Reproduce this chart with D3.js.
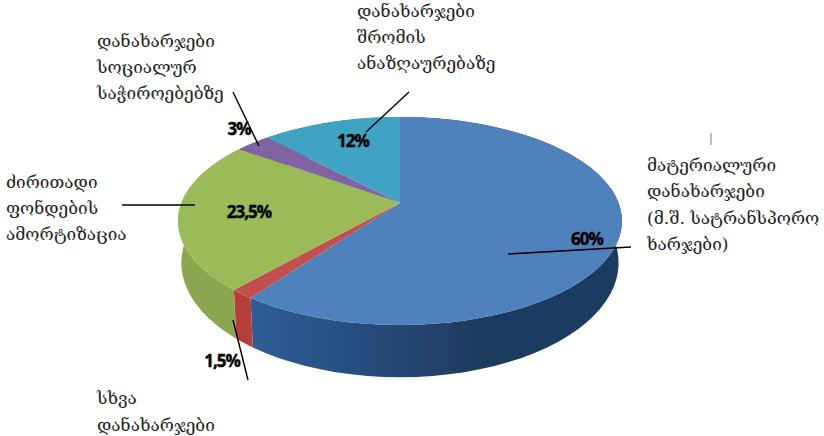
<!DOCTYPE html>
<html>
<head>
<meta charset="utf-8">
<style>
    html, body { margin: 0; padding: 0; background: #fff; }
    svg { display: block; }
    .caption { font-family: "DejaVu Serif", serif; font-size: 17.2px; fill: #222; }
    .value { font-family: "Open Sans", sans-serif; font-size: 17px; font-weight: 700; fill: #000; stroke: #000; stroke-width: 0.4; letter-spacing: -1px; }
    .leader { stroke: #000; stroke-width: 1.4; fill: none; }
</style>
<script src="https://cdnjs.cloudflare.com/ajax/libs/d3/7.8.5/d3.min.js"></script>
</head>
<body>
<div id="chart"></div>
<script>
(function () {
    "use strict";

    // values, clockwise from twelve o'clock
    const sliceValues = [60, 1.5, 23.5, 3, 12];
    const sliceLabels = ["60%", "1,5%", "23,5%", "3%", "12%"];
    const sliceCaptions = [
        ["მატერიალური", "დანახარჯები", "(მ.შ. სატრანსპორო", "ხარჯები)"],
        ["სხვა", "დანახარჯები"],
        ["ძირითადი", "ფონდების", "ამორტიზაცია"],
        ["დანახარჯები", "სოციალურ", "საჭიროებებზე"],
        ["დანახარჯები", "შრომის", "ანაზღაურებაზე"]
    ];
    const topColors = ["#4f81bd", "#c0504d", "#9bbb59", "#8064a2", "#3fa3c4"];
    const wallColors = [["#2f5f9a", "#1f3a60"], ["#b5403a", "#b5403a"], ["#8ba650", "#7f9a48"], ["#5d4778", "#5d4778"], ["#2f7d96", "#2f7d96"]];

    // layout, separate from the data
    const labelAt = [[587, 245], [222, 367], [249, 218], [239, 135], [353, 147]];
    const captionAt = [[647, 171, 26.3], [97, 404, 27], [6, 188, 26], [97, 47, 26], [357, 17, 26]];
    const leaders = [
        [[508, 254], [631, 247]],
        [[233, 320], [248, 380]],
        [[122, 205], [195, 205]],
        [[233, 92], [259, 146]],
        [[409, 92], [366, 132]]
    ];

    const width = 824, height = 436;
    const apex = { x: 400, y: 203 };
    const radiusX = 218.6, radiusY = 100.9, tilt = 0.173;
    const depth = 40, wallShrink = 0.985, wallStretch = 1.1;

    // perspective projection of a point on the unit circle
    let project = (angle, r, base) => {
        let u = Math.sin(angle) * r, v = Math.cos(angle) * r;
        let w = 1 + tilt * v;
        return base
            ? [apex.x + wallShrink * radiusX * u / w, apex.y + depth - wallStretch * radiusY * v / w]
            : [apex.x + radiusX * u / w, apex.y - radiusY * v / w];
    };

    let arcPoints = (d, base) =>
        d3.range(0, 61).map(i => project(d.startAngle + (d.endAngle - d.startAngle) * i / 60, 1, base));

    let line = d3.line();

    let svg = d3.select("#chart").append("svg").attr("width", width).attr("height", height);
    let defs = svg.append("defs");

    defs.append("filter").attr("id", "soft")
        .append("feGaussianBlur").attr("stdDeviation", 0.5);

    let slices = d3.pie().sort(null).value(d => d)(sliceValues);

    slices.forEach((d, i) => {
        let grad = defs.append("linearGradient")
            .attr("id", "wall" + i)
            .attr("gradientUnits", "userSpaceOnUse")
            .attr("x1", 240).attr("x2", 480).attr("y1", 0).attr("y2", 0);
        grad.append("stop").attr("offset", "0%").attr("stop-color", wallColors[i][0]);
        grad.append("stop").attr("offset", "100%").attr("stop-color", wallColors[i][1]);
    });

    let pieGroup = svg.append("g").attr("filter", "url(#soft)");

    // outer walls first, the top faces then cover the back ones
    pieGroup.selectAll("path.wall")
        .data(slices)
        .enter()
        .append("path")
        .attr("class", "wall")
        .attr("fill", (d, i) => "url(#wall" + i + ")")
        .attr("d", d => line(arcPoints(d, false).concat(arcPoints(d, true).reverse())) + "Z");

    pieGroup.selectAll("path.top")
        .data(slices)
        .enter()
        .append("path")
        .attr("class", "top")
        .attr("fill", (d, i) => topColors[i])
        .attr("d", d => line([[apex.x, apex.y]].concat(arcPoints(d, false))) + "Z");

    svg.selectAll("path.leader")
        .data(leaders)
        .enter()
        .append("path")
        .attr("class", "leader")
        .attr("d", d => line(d));

    // small stray mark above the right caption
    svg.append("line")
        .attr("x1", 711).attr("x2", 711).attr("y1", 133).attr("y2", 145)
        .attr("stroke", "#777").attr("stroke-width", 1);

    svg.selectAll("text.value")
        .data(sliceLabels)
        .enter()
        .append("text")
        .attr("class", "value")
        .attr("text-anchor", "middle")
        .attr("x", (d, i) => labelAt[i][0])
        .attr("y", (d, i) => labelAt[i][1])
        .text(d => d);

    sliceCaptions.forEach((lines, i) => {
        svg.selectAll("text.cap" + i)
            .data(lines)
            .enter()
            .append("text")
            .attr("class", "caption cap" + i)
            .attr("x", captionAt[i][0])
            .attr("y", (d, j) => captionAt[i][1] + j * captionAt[i][2])
            .text(d => d);
    });
})();
</script>
</body>
</html>
